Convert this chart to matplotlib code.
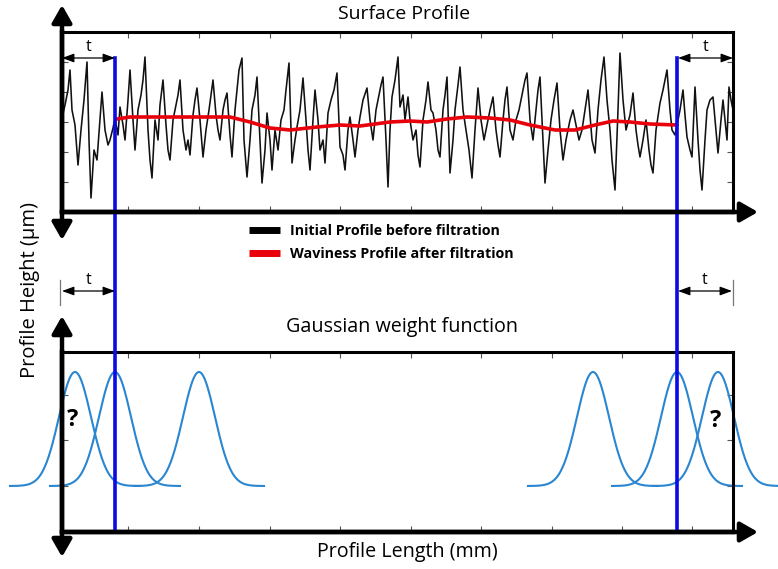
import numpy as np
import matplotlib
matplotlib.use('Agg')
import matplotlib.pyplot as plt
import matplotlib.transforms as mtransforms
from matplotlib.patches import FancyArrowPatch
from matplotlib.lines import Line2D

plt.rcParams['font.family'] = ['Open Sans', 'DejaVu Sans']

# --- DADOS ---
PROFILE_LEN = 671          # comprimento do perfil (unidades arbitrarias)
CUTS = [53, 615]           # inicio / fim da zona filtrada (t de cada lado)

PROFILE_X = [
    0, 3, 6, 8, 10, 13, 16, 19, 22, 25,
    27, 29, 32, 35, 38, 40, 43, 46, 48, 51,
    53, 56, 58, 61, 63, 66, 68, 71, 73, 76,
    79, 81, 83, 86, 88, 90, 93, 96, 98, 101,
    104, 106, 108, 111, 114, 116, 118, 121, 124, 126,
    128, 131, 133, 135, 138, 141, 144, 147, 149, 151,
    154, 156, 158, 161, 163, 165, 168, 170, 173, 175,
    177, 180, 182, 185, 188, 190, 193, 195, 198, 200,
    203, 205, 208, 210, 213, 216, 219, 222, 224, 227,
    230, 233, 235, 238, 241, 244, 246, 248, 251, 253,
    256, 258, 261, 263, 266, 269, 272, 275, 278, 281,
    283, 286, 288, 291, 293, 296, 298, 301, 305, 308,
    311, 314, 317, 319, 321, 324, 326, 328, 330, 333,
    336, 338, 341, 343, 346, 348, 351, 354, 356, 358,
    361, 364, 366, 369, 371, 374, 376, 378, 381, 383,
    385, 388, 391, 393, 396, 398, 401, 404, 407, 410,
    413, 416, 419, 422, 425, 428, 431, 434, 436, 438,
    441, 443, 445, 448, 451, 454, 457, 460, 463, 465,
    468, 471, 474, 476, 478, 481, 483, 486, 489, 492,
    495, 498, 501, 504, 508, 511, 514, 517, 520, 523,
    526, 530, 533, 536, 539, 542, 545, 548, 550, 553,
    556, 558, 561, 564, 568, 571, 574, 576, 578, 581,
    584, 587, 589, 591, 594, 598, 601, 603, 605, 608,
    610, 613, 615, 618, 621, 623, 625, 628, 630, 633,
    636, 638, 640, 643, 645, 648, 651, 654, 656, 659,
    661, 663, 665, 667, 669, 671,
]
PROFILE_Y = [
    4, 17, 32, 52, 12, -3, -43, -8, 22, 60,
    -18, -76, -28, -38, 2, 30, -8, -23, -18, -6,
    4, -13, 15, -3, -18, 22, 52, 2, -28, 12,
    27, 42, 65, -8, -38, -56, 2, -18, 17, 42,
    -3, -28, -38, 2, 17, 27, 42, -8, -28, -18,
    -33, 7, 22, 34, 2, -35, -8, 12, 27, 42,
    7, -8, -18, 12, 22, 29, -13, -35, 12, 32,
    52, 64, -18, -55, -18, 12, 27, 45, -18, -61,
    -28, 9, -18, -48, -8, -28, 2, 12, 32, 59,
    -41, -18, -5, 12, 44, 2, -28, -48, 2, 32,
    2, -28, -18, -41, 9, 22, 32, 49, -25, -33,
    -48, -8, 5, -18, -35, -8, 5, 22, 34, 2,
    -18, 12, 27, 37, 45, -18, -65, -8, 25, 42,
    65, 15, 27, 2, 25, 2, -18, -8, -33, -45,
    2, 22, 40, 12, 9, -8, -28, -35, 12, 27,
    45, -51, -18, 12, 37, 55, 12, -8, -28, -56,
    -8, 34, 2, -18, -3, 12, 25, -8, -23, -35,
    2, 22, 35, -8, -18, 2, 12, 27, 42, 49,
    2, -18, 12, 32, 45, -18, -61, -28, 2, 22,
    39, -8, -38, -18, 2, 12, -3, -18, -8, 12,
    32, -18, -31, 12, 42, 65, 22, -8, -38, -68,
    12, 69, 22, -8, 7, 29, -8, -23, -35, -18,
    2, -28, -43, -51, -8, 19, 32, 42, 52, 12,
    -8, -13, -3, 12, 32, 7, -15, -28, -35, 35,
    -18, -48, -68, -18, 12, 22, 25, -8, -31, 2,
    22, 2, -18, 35, 22, 12,
]

WAVINESS_X = [55, 68, 98, 138, 168, 188, 208, 228, 255, 278, 298, 328, 348,
              365, 385, 405, 428, 448, 468, 493, 513, 533, 551, 568, 588, 615]
WAVINESS_Y = [3, 5, 5, 5, 5, 0, -6, -8, -5, -3, -4, 0, 1,
              0, 3, 5, 4, 2, -3, -8, -8, -3, 1, 0, -2, -3]

GAUSS_CENTERS = [13, 53, 137, 531, 615, 656]
GAUSS_SIGMA = 16
GAUSS_HALF_SPAN = 65

X_TICKS = [66, 137, 208, 278, 349, 419, 490, 560, 630]
TOP_Y_TICKS = [-60, -30, 0, 30, 60]
BOT_Y_TICKS = [0, 0.4, 0.8]

LEGEND_LABELS = ['Initial Profile before filtration', 'Waviness Profile after filtration']

# --- LAYOUT (pixels da figura) ---
W, H = 778, 569


def fx(px):
    return px / W


def fy(py):
    return 1 - py / H


fig = plt.figure(figsize=(W / 100, H / 100), dpi=100)
ax_top = fig.add_axes([fx(62), fy(212), (733 - 62) / W, 180 / H])
ax_bot = fig.add_axes([fx(62), fy(532), (733 - 62) / W, 180 / H])
ax_bot.set_facecolor('none')
ax_top.set_facecolor('none')

for ax in (ax_top, ax_bot):
    ax.set_xlim(0, PROFILE_LEN)
    ax.set_xticks(X_TICKS)
    ax.tick_params(direction='in', length=4, width=0.8, color='#555555',
                   top=True, right=True, labelbottom=False, labelleft=False)
    for side in ('top', 'right'):
        ax.spines[side].set_linewidth(2.2)
    for side in ('left', 'bottom'):
        ax.spines[side].set_linewidth(3.2)

# painel superior: perfil
ax_top.set_ylim(-90, 90)
ax_top.set_yticks(TOP_Y_TICKS)
prof_line, = ax_top.plot(PROFILE_X, PROFILE_Y, color='#111111', lw=1.15)
wav_line, = ax_top.plot(WAVINESS_X, WAVINESS_Y, color='#e8000b', lw=2.6,
                        solid_capstyle='round')

# painel inferior: funcoes peso gaussianas
ax_bot.set_ylim(-46 / 114, 134 / 114)
ax_bot.set_yticks(BOT_Y_TICKS)
for c in GAUSS_CENTERS:
    xs = np.linspace(c - GAUSS_HALF_SPAN, c + GAUSS_HALF_SPAN, 200)
    ax_bot.plot(xs, np.exp(-0.5 * ((xs - c) / GAUSS_SIGMA) ** 2),
                color='#2a86d0', lw=1.5, clip_on=False)

# linhas azuis (limites da zona filtrada)
blend = mtransforms.blended_transform_factory(ax_top.transData, fig.transFigure)
for c in CUTS:
    fig.add_artist(Line2D([c, c], [fy(58), fy(532)], transform=blend,
                          color='#0a0ae6', lw=2.6, zorder=5))


def arrow(p0, p1, style, lw, mut, color='k'):
    a = FancyArrowPatch((fx(p0[0]), fy(p0[1])), (fx(p1[0]), fy(p1[1])),
                        transform=fig.transFigure, arrowstyle=style, lw=lw,
                        color=color, mutation_scale=mut, shrinkA=0, shrinkB=0,
                        zorder=6)
    fig.add_artist(a)


big = '<|-|>,head_length=0.7,head_width=0.4'
arrow((62, 240), (62, 5), big, 3.2, 15)
arrow((62, 557), (62, 316), big, 3.2, 15)
arrow((62, 212), (758, 212), '-|>,head_length=0.7,head_width=0.4', 3.2, 15)
arrow((62, 532), (758, 532), '-|>,head_length=0.7,head_width=0.4', 3.2, 15)

# cotas "t"
small = '<|-|>,head_length=0.6,head_width=0.22'
for (x0, x1, y) in [(62, 115, 58), (678, 733, 58), (62, 115, 291), (678, 732, 291)]:
    arrow((x0, y), (x1, y), small, 0.9, 12)
    fig.text(fx((x0 + x1) / 2), fy(y - 11), 't', ha='center', va='center', fontsize=11.5)
for x in (60, 733):
    fig.add_artist(Line2D([fx(x), fx(x)], [fy(280), fy(305)], transform=fig.transFigure,
                          color='#777777', lw=0.9))

# interrogacoes
fig.text(fx(73), fy(420), '?', ha='center', va='center', fontsize=17, fontweight='bold')
fig.text(fx(716), fy(421), '?', ha='center', va='center', fontsize=17, fontweight='bold')

# textos
fig.text(fx(404), fy(14), 'Surface Profile', ha='center', va='center', fontsize=14)
fig.text(fx(402), fy(327), 'Gaussian weight function', ha='center', va='center', fontsize=14.2)
fig.text(fx(407), fy(552), 'Profile Length (mm)', ha='center', va='center', fontsize=14.2)
fig.text(fx(30), fy(290), 'Profile Height (µm)', ha='center', va='center',
         rotation=90, fontsize=14.5)

leg = fig.legend([prof_line, wav_line], LEGEND_LABELS, loc='upper left',
                 bbox_to_anchor=(fx(236), fy(211)), frameon=False,
                 prop={'weight': 'bold', 'size': 10.3}, handlelength=2.2,
                 handletextpad=0.7, labelspacing=0.65)
for h, col in zip(leg.legend_handles, ['black', '#e8000b']):
    h.set_linewidth(5)
    h.set_color(col)
    h.set_solid_capstyle('butt')

fig.savefig('out.png', dpi=100)
